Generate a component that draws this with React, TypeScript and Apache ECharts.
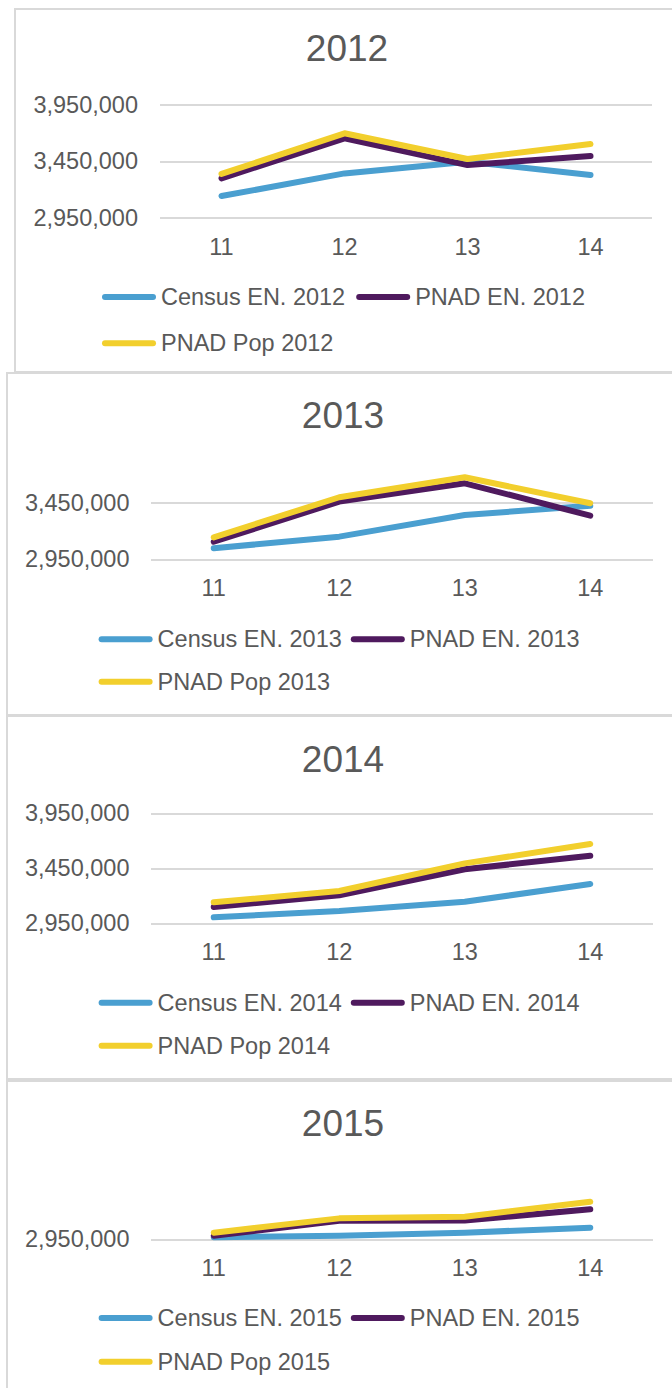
import React, { useEffect, useRef } from "react";
import * as echarts from "echarts";

// ---------- data ----------
const categories = ["11", "12", "13", "14"];

const census2012 = [3142000, 3343000, 3447000, 3329000];
const pnadEn2012 = [3299000, 3654000, 3417000, 3497000];
const pnadPop2012 = [3338000, 3699000, 3471000, 3604000];

const census2013 = [3047000, 3150000, 3341000, 3423000];
const pnadEn2013 = [3105000, 3459000, 3621000, 3335000];
const pnadPop2013 = [3144000, 3498000, 3674000, 3445000];

const census2014 = [3005000, 3062000, 3146000, 3307000];
const pnadEn2014 = [3098000, 3205000, 3441000, 3565000];
const pnadPop2014 = [3141000, 3244000, 3495000, 3671000];

const census2015 = [2968000, 2982000, 3009000, 3054000];
const pnadEn2015 = [2982000, 3116000, 3118000, 3218000];
const pnadPop2015 = [3009000, 3137000, 3152000, 3286000];

const years = ["2012", "2013", "2014", "2015"];
const seriesLabels = ["Census EN.", "PNAD EN.", "PNAD Pop"];
const yMin = 2950000;
const yInterval = 500000;
const yMaxes = [3950000, 3750000, 3950000, 3400000];

const dataByYear = [
  [census2012, pnadEn2012, pnadPop2012],
  [census2013, pnadEn2013, pnadPop2013],
  [census2014, pnadEn2014, pnadPop2014],
  [census2015, pnadEn2015, pnadPop2015],
];

// ---------- layout & style ----------
const FONT = '"Liberation Sans", Arial, Helvetica, sans-serif';
const TEXT = "#595959";
const GRID = "#d9d9d9";
const COLORS = ["#4a9fd0", "#4f1a5e", "#f2cf2d"];
const LEGEND_ICON = "path://M3,0L51,0A3,3,0,0,1,51,6L3,6A3,3,0,0,1,3,0Z";

const layouts = [
  { frame: { x: 15, y: 9, h: 363 }, titleX: 347, titleY: 48, grid: { left: 160, top: 105, width: 492, height: 112.7 }, yMargin: 22, legendLeft: 102, itemGap: 11, rows: [297, 343.3] },
  { frame: { x: 7, y: 373, h: 342 }, titleX: 343, titleY: 415, grid: { left: 151, top: 468.7, width: 502, height: 90.6 }, yMargin: 21.5, legendLeft: 98.6, itemGap: 9, rows: [639.3, 681.7] },
  { frame: { x: 7, y: 716, h: 363 }, titleX: 343, titleY: 759, grid: { left: 151, top: 813.3, width: 502, height: 110 }, yMargin: 21.5, legendLeft: 98.6, itemGap: 9, rows: [1002.7, 1045.7] },
  { frame: { x: 7, y: 1081, h: 400 }, titleX: 343, titleY: 1123, grid: { left: 151, top: 1188.9, width: 502, height: 50.4 }, yMargin: 21.5, legendLeft: 98.6, itemGap: 9, rows: [1318, 1361.7] },
];

const fmt = (v: number) => v.toLocaleString("en-US");

function buildOption() {
  const title: any[] = [];
  const grid: any[] = [];
  const xAxis: any[] = [];
  const yAxis: any[] = [];
  const series: any[] = [];
  const legend: any[] = [];
  const graphic: any[] = [];

  years.forEach((year, i) => {
    const L = layouts[i];
    const yMax = yMaxes[i];
    const maxIsTick = (yMax - yMin) % yInterval === 0;
    graphic.push({
      type: "rect",
      silent: true,
      z: -10,
      shape: { x: L.frame.x, y: L.frame.y, width: 720, height: L.frame.h },
      style: { fill: "#ffffff", stroke: GRID, lineWidth: 2 },
    });
    title.push({
      text: year,
      left: L.titleX,
      top: L.titleY,
      textAlign: "center",
      textVerticalAlign: "middle",
      padding: 0,
      textStyle: { fontSize: 37, fontWeight: "normal", fontFamily: FONT, color: TEXT },
    });
    grid.push({ ...L.grid, containLabel: false });
    xAxis.push({
      type: "category",
      gridIndex: i,
      data: categories,
      boundaryGap: true,
      axisLine: { show: false },
      axisTick: { show: false },
      splitLine: { show: false },
      axisLabel: { margin: 17, fontSize: 23.5, fontFamily: FONT, color: TEXT },
    });
    yAxis.push({
      type: "value",
      gridIndex: i,
      min: yMin,
      max: yMax,
      interval: yInterval,
      axisLine: { show: false },
      axisTick: { show: false },
      splitLine: { show: true, showMaxLine: maxIsTick, lineStyle: { color: GRID, width: 2 } },
      axisLabel: {
        margin: L.yMargin,
        fontSize: 23.5,
        fontFamily: FONT,
        color: TEXT,
        showMaxLabel: maxIsTick,
        formatter: (v: number) => fmt(v),
      },
    });
    const names = seriesLabels.map((s) => `${s} ${year}`);
    dataByYear[i].forEach((d, k) => {
      series.push({
        type: "line",
        name: names[k],
        xAxisIndex: i,
        yAxisIndex: i,
        data: d,
        color: COLORS[k],
        symbol: "none",
        showSymbol: false,
        silent: true,
        lineStyle: { width: 6, cap: "round", join: "round", color: COLORS[k] },
        itemStyle: { color: COLORS[k] },
      });
    });
    const legendBase = {
      orient: "horizontal",
      left: L.legendLeft,
      itemGap: L.itemGap,
      itemWidth: 54,
      itemHeight: 6,
      icon: LEGEND_ICON,
      padding: 0,
      selectedMode: false,
      itemStyle: { borderWidth: 0 },
      textStyle: { fontSize: 23.5, fontFamily: FONT, color: TEXT, lineHeight: 24 },
    };
    legend.push({ ...legendBase, data: [names[0], names[1]], top: L.rows[0] - 12 });
    legend.push({ ...legendBase, data: [names[2]], top: L.rows[1] - 12 });
  });

  return {
    animation: false,
    backgroundColor: "#ffffff",
    title,
    grid,
    xAxis,
    yAxis,
    series,
    legend,
    graphic,
    tooltip: { show: false },
  };
}

export default function App() {
  const ref = useRef<HTMLDivElement>(null);
  useEffect(() => {
    if (!ref.current) return;
    const chart = echarts.init(ref.current, undefined, { renderer: "svg" });
    chart.setOption(buildOption() as any);
    return () => chart.dispose();
  }, []);
  return (
    <div
      ref={ref}
      style={{ position: "absolute", left: 0, top: 0, width: 672, height: 1388, background: "#fff" }}
    />
  );
}
